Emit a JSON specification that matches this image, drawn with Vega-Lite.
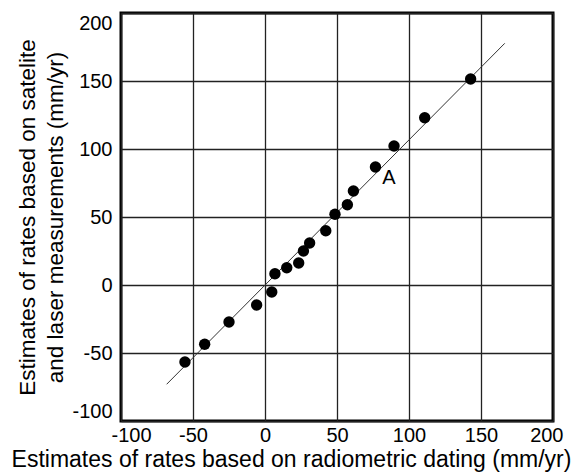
{
  "$schema": "https://vega.github.io/schema/vega-lite/v6.json",
  "autosize": {"type": "none"},
  "width": 432,
  "height": 408,
  "padding": {"left": 121, "top": 13, "right": 27, "bottom": 55},
  "background": "white",
  "config": {
    "font": "Liberation Sans",
    "view": {"stroke": "black", "strokeWidth": 3},
    "axis": {
      "gridColor": "#222222",
      "gridWidth": 1.3,
      "gridOpacity": 1,
      "ticks": false,
      "domain": false,
      "labelFontSize": 20,
      "labelColor": "black",
      "titleFontSize": 23,
      "titleFontWeight": "normal",
      "titleColor": "black",
      "labelExpr": "'' + datum.value"
    }
  },
  "datasets": {
    "pts": [
      {"radiometric": -55.6, "satellite": -56.6},
      {"radiometric": -41.9, "satellite": -43.6},
      {"radiometric": -25.0, "satellite": -27.2},
      {"radiometric": -5.8, "satellite": -14.7},
      {"radiometric": 4.7, "satellite": -5.1},
      {"radiometric": 6.9, "satellite": 8.3},
      {"radiometric": 15.1, "satellite": 12.7},
      {"radiometric": 23.4, "satellite": 16.2},
      {"radiometric": 26.7, "satellite": 25.0},
      {"radiometric": 31.0, "satellite": 30.9},
      {"radiometric": 42.2, "satellite": 39.9},
      {"radiometric": 48.6, "satellite": 52.0},
      {"radiometric": 57.2, "satellite": 59.0},
      {"radiometric": 61.4, "satellite": 69.1},
      {"radiometric": 76.7, "satellite": 86.8},
      {"radiometric": 89.6, "satellite": 102.2},
      {"radiometric": 110.9, "satellite": 123.0},
      {"radiometric": 142.8, "satellite": 151.5}
    ],
    "fit": [
      {"radiometric": -68.3, "satellite": -73.0},
      {"radiometric": 166.5, "satellite": 177.7}
    ],
    "label": [
      {"radiometric": 86.1, "satellite": 78.9, "text": "A"}
    ]
  },
  "layer": [
    {
      "data": {"name": "fit"},
      "mark": {"type": "line", "color": "#333333", "strokeWidth": 1},
      "encoding": {
        "x": {
          "field": "radiometric", "type": "quantitative",
          "scale": {"domain": [-100, 200], "nice": false},
          "axis": {
            "values": [-100, -50, 0, 50, 100, 150, 200],
            "title": "Estimates of rates based on radiometric dating (mm/yr)",
            "labelPadding": 4,
            "labelFlush": true,
            "labelFlushOffset": 10,
            "titlePadding": 3,
            "titleX": 170,
            "titleAnchor": null
          }
        },
        "y": {
          "field": "satellite", "type": "quantitative",
          "scale": {"domain": [-100, 200], "nice": false},
          "axis": {
            "values": [-100, -50, 0, 50, 100, 150, 200],
            "title": ["Estimates of rates based on satelite", "and laser measurements (mm/yr)"],
            "labelFlush": true,
            "labelPadding": 9,
            "titlePadding": 4,
            "titleFontSize": 22.5,
            "titleLineHeight": 28
          }
        }
      }
    },
    {
      "data": {"name": "pts"},
      "mark": {"type": "point", "filled": true, "color": "black", "opacity": 1, "size": 130},
      "encoding": {
        "x": {"field": "radiometric", "type": "quantitative"},
        "y": {"field": "satellite", "type": "quantitative"}
      }
    },
    {
      "data": {"name": "label"},
      "mark": {"type": "text", "fontSize": 20, "color": "black", "font": "Liberation Sans"},
      "encoding": {
        "x": {"field": "radiometric", "type": "quantitative"},
        "y": {"field": "satellite", "type": "quantitative"},
        "text": {"field": "text"}
      }
    }
  ]
}
